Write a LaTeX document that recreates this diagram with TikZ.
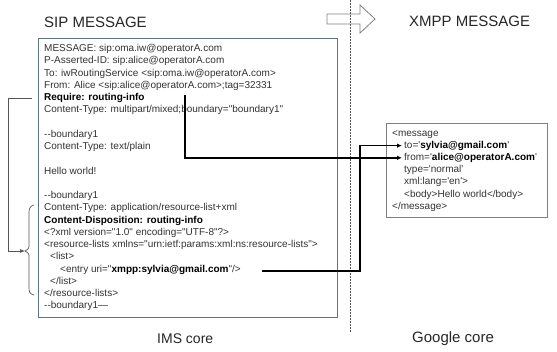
\documentclass[tikz,border=0pt]{standalone}
\usepackage{fontspec}
\setmainfont{Liberation Sans}[Ligatures=TeXOff]
\usetikzlibrary{arrows.meta}
\definecolor{txt}{HTML}{333333}
\definecolor{sipframe}{HTML}{5F7384}
\definecolor{xmppframe}{HTML}{7F7F7F}
\definecolor{guide}{HTML}{555555}
\tikzset{
  line/.style={anchor=base west, inner sep=0pt, text=txt, font=\fontsize{10}{12}\selectfont},
  title/.style={anchor=base west, inner sep=0pt, text=black!85, font=\fontsize{15}{18}\selectfont},
  frame/.style={draw, line width=0.8pt, anchor=north west, inner sep=0pt, fill=white},
  conn/.style={line width=1.7pt, black, -{Latex[length=5pt,width=4.5pt]}},
  guidearrow/.style={line width=0.7pt, guide, -{Latex[length=5pt,width=4pt]}},
}
\newcommand{\bt}[1]{\textbf{\color{black}#1}}
\begin{document}
\begin{tikzpicture}[x=1pt, y=-1pt]
\useasboundingbox (0,0) rectangle (557,351);

% headings
\node[title] (siptitle) at (44,27) {SIP MESSAGE};
\node[title] (xmpptitle) at (409,26.5) {XMPP MESSAGE};
\node[title, font=\fontsize{14}{16}\selectfont] (ims) at (157,343) {IMS core};
\node[title] (google) at (412,342) {Google core};

% SIP message frame and its lines
\node[frame, draw=sipframe, minimum width=299pt, minimum height=279pt] (sipbox) at (38,38) {};
\node[line] (s0)  at (44,51.5)  {MESSAGE: sip:oma.iw@operatorA.com};
\node[line] (s1)  at (44,63.75) {P-Asserted-ID: sip:alice@operatorA.com};
\node[line] (s2)  at (44,76)    {To: iwRoutingService <sip:oma.iw@operatorA.com>};
\node[line] (s3)  at (44,88.25) {From: Alice <sip:alice@operatorA.com>;tag=32331};
\node[line] (s4)  at (44,100.5) {\bt{Require: routing-info}};
\node[line] (s5)  at (44,112.75){Content-Type: multipart/mixed;boundary="boundary1"};
\node[line] (s7)  at (44,137.25){--boundary1};
\node[line] (s8)  at (44,149.5) {Content-Type: text/plain};
\node[line] (s10) at (44,174)   {Hello world!};
\node[line] (s12) at (44,198.5) {--boundary1};
\node[line] (s13) at (44,210.75){Content-Type: application/resource-list+xml};
\node[line] (s14) at (44,223)   {\bt{Content-Disposition: routing-info}};
\node[line] (s15) at (44,235.25){<?xml version="1.0" encoding="UTF-8"?>};
\node[line] (s16) at (44,247.5) {<resource-lists xmlns="urn:ietf:params:xml:ns:resource-lists">};
\node[line] (s17) at (50,259.75){<list>};
\node[line] (s18) at (60,272)   {<entry uri="\bt{xmpp:sylvia@gmail.com}"/>};
\node[line] (s19) at (50,284.25){</list>};
\node[line] (s20) at (44,296.5) {</resource-lists>};
\node[line] (s21) at (44,308.75){--boundary1—};

% XMPP message frame and its lines
\node[frame, draw=xmppframe, minimum width=161pt, minimum height=94pt] (xmppbox) at (386,123) {};
\node[line] (x0) at (392,136)   {<message};
\node[line] (xto) at (404,148.2) {to='\bt{sylvia@gmail.com}'};
\node[line] (xfrom) at (404,160.4) {from='\bt{alice@operatorA.com}'};
\node[line] (x3) at (404,172.6) {type='normal'};
\node[line] (x4) at (404,184.8) {xml:lang='en'>};
\node[line] (x5) at (404,197)   {<body>Hello world</body>};
\node[line] (x6) at (392,209.2) {</message>};

% domain border and hand-over arrow
\draw[xmppframe, line width=0.8pt] (327,14) -- (360,14) -- (360,5) -- (375,19)
  -- (360,33) -- (360,24) -- (327,24) -- cycle;
\coordinate (bordertop) at (350,0);
\coordinate (borderbot) at (350,332);
\draw[guide, line width=0.6pt, dash pattern=on 1.5pt off 1.5pt] (bordertop) -- (borderbot);

% Require header points at the routing-info body part
\coordinate (reqstart) at (32,98);
\coordinate (reqleft) at (8,98);
\coordinate (bracetip) at (25,251);
\draw[guidearrow] (reqstart) -- (reqleft) |- (bracetip);
\draw[guide, line width=0.7pt]
  (34,205) .. controls (29.5,206) and (29,209) .. (29,214) -- (29,244)
  .. controls (29,248.5) .. (25,251) .. controls (29,253.5) .. (29,258)
  -- (29,287) .. controls (29,292) and (29.5,294) .. (34,295);

% header mapping connectors
\coordinate (fromstart) at (185,95);
\coordinate (tostart) at (262,271);
\coordinate (turn) at (360,0);
\draw[conn] (fromstart) |- ([xshift=-2pt]xfrom.west);
\draw[conn] (tostart) -| (turn |- xto.west) -- ([xshift=-2pt]xto.west);
\end{tikzpicture}
\end{document}
